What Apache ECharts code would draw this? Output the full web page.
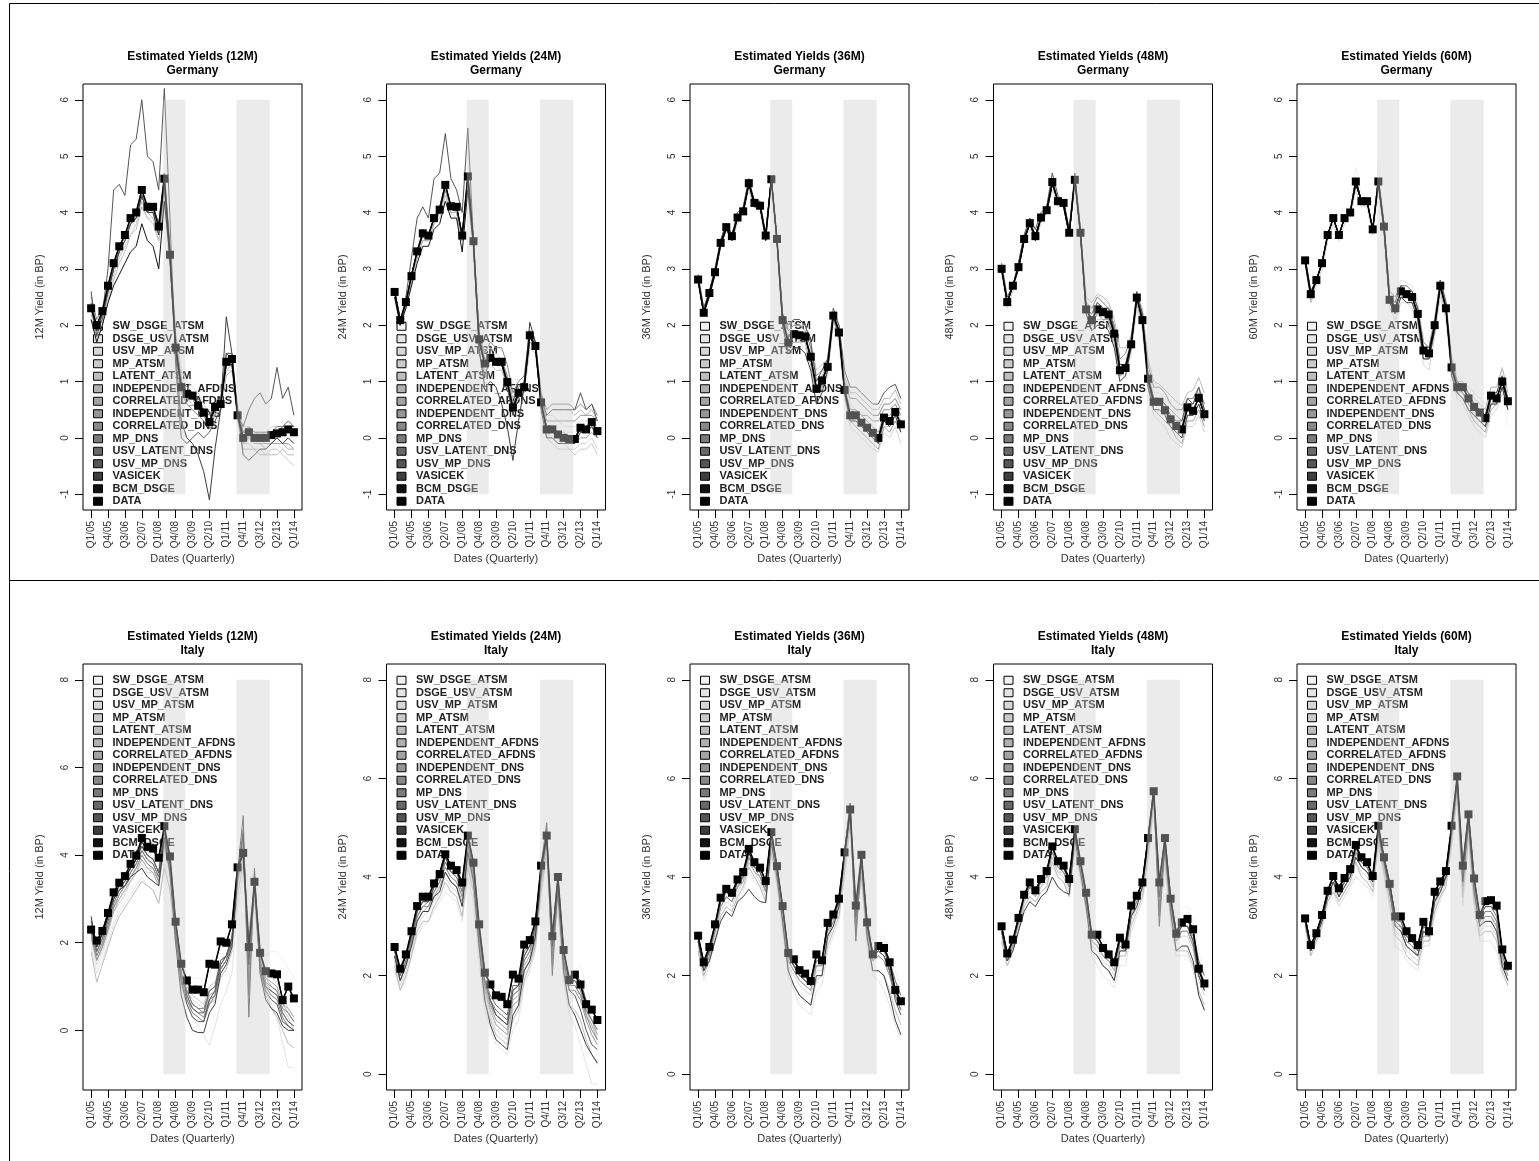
<!DOCTYPE html>
<html>
<head>
<meta charset="utf-8">
<script src="https://cdn.jsdelivr.net/npm/echarts@6/dist/echarts.min.js"></script>
<style>
  html, body { margin: 0; padding: 0; background: #fff; }
  #chart { width: 1539px; height: 1161px; }
</style>
</head>
<body>
<div id="chart"></div>
<script>
// Quarterly observation dates, Q1/05 .. Q1/14
const QUARTERS = ['Q1/05','Q2/05','Q3/05','Q4/05','Q1/06','Q2/06','Q3/06','Q4/06','Q1/07','Q2/07','Q3/07','Q4/07',
  'Q1/08','Q2/08','Q3/08','Q4/08','Q1/09','Q2/09','Q3/09','Q4/09','Q1/10','Q2/10','Q3/10','Q4/10',
  'Q1/11','Q2/11','Q3/11','Q4/11','Q1/12','Q2/12','Q3/12','Q4/12','Q1/13','Q2/13','Q3/13','Q4/13','Q1/14'];
const X_TICKS = [0,3,6,9,12,15,18,21,24,27,30,33,36];

const MODELS = ['SW_DSGE_ATSM','DSGE_USV_ATSM','USV_MP_ATSM','MP_ATSM','LATENT_ATSM','INDEPENDENT_AFDNS',
  'CORRELATED_AFDNS','INDEPENDENT_DNS','CORRELATED_DNS','MP_DNS','USV_LATENT_DNS','USV_MP_DNS','VASICEK','BCM_DSGE'];

// Recession periods (in quarter index units)
const RECESSIONS = [[12.8, 16.7], [25.8, 31.7]];

const DE_TICKS = [-1,0,1,2,3,4,5,6];
const IT_TICKS = [0,2,4,6,8];

// ---------- Germany 12M ----------
const DE12_DATA = [2.3,2.0,2.25,2.7,3.1,3.4,3.6,3.9,4.0,4.4,4.1,4.1,3.75,4.6,3.25,1.6,0.9,0.78,0.75,0.57,0.45,0.28,0.55,0.6,1.35,1.4,0.4,0.0,0.1,0.0,0.0,0.0,0.05,0.08,0.1,0.15,0.1];
const DE12_MODELS = [
  [2.2,1.9,2.1,2.5,2.9,3.2,3.4,3.7,3.8,4.2,4.0,3.9,3.6,4.3,3.1,1.7,1.0,0.8,0.7,0.5,0.4,0.3,0.5,0.6,1.3,1.3,0.4,0.0,0.0,-0.1,-0.1,-0.1,-0.1,0.0,0.0,0.0,-0.1],
  [2.1,1.8,2.0,2.5,2.9,3.2,3.5,3.7,3.9,4.3,4.0,4.0,3.7,4.4,3.2,1.8,1.1,0.9,0.8,0.6,0.5,0.3,0.5,0.6,1.2,1.3,0.5,0.1,0.1,0.0,-0.1,-0.1,-0.1,-0.1,-0.2,-0.1,-0.2],
  [2.2,1.8,2.1,2.6,3.0,3.3,3.5,3.8,3.9,4.2,3.9,3.9,3.6,4.3,3.3,1.9,1.2,1.0,0.9,0.8,0.6,0.4,0.6,0.7,1.2,1.2,0.6,0.2,0.2,0.1,0.1,0.1,0.2,0.2,0.2,0.3,0.2],
  [2.3,1.9,2.1,2.5,2.9,3.2,3.4,3.6,3.8,4.2,4.0,3.9,3.5,4.2,3.2,1.7,1.0,0.8,0.7,0.6,0.4,0.2,0.4,0.5,1.2,1.3,0.4,-0.1,-0.1,-0.2,-0.2,-0.3,-0.2,-0.2,-0.3,-0.4,-0.5],
  [2.1,1.8,2.0,2.4,2.8,3.1,3.3,3.6,3.7,4.1,3.9,3.8,3.5,4.3,3.0,1.5,0.9,0.7,0.6,0.5,0.4,0.2,0.5,0.5,1.1,1.2,0.3,-0.2,-0.2,-0.2,-0.3,-0.3,-0.3,-0.3,-0.2,-0.3,-0.3],
  [2.2,1.9,2.1,2.6,3.0,3.3,3.5,3.8,3.9,4.3,4.0,4.0,3.7,4.5,3.3,1.7,0.9,0.6,0.5,0.4,0.3,0.2,0.5,0.6,1.3,1.4,0.4,-0.1,0.0,-0.1,-0.1,-0.2,-0.1,-0.1,-0.1,-0.2,-0.2],
  [2.3,2.0,2.2,2.6,3.0,3.3,3.5,3.8,3.9,4.3,4.0,4.0,3.6,4.5,3.2,1.6,0.8,0.6,0.5,0.4,0.3,0.2,0.4,0.6,1.3,1.3,0.4,0.0,0.0,-0.1,-0.1,-0.1,-0.1,0.0,-0.1,-0.1,-0.2],
  [2.4,2.0,2.2,2.7,3.1,3.4,3.6,3.9,4.0,4.4,4.1,4.0,3.7,4.5,3.2,1.5,0.8,0.7,0.7,0.5,0.4,0.2,0.5,0.6,1.4,1.4,0.4,0.0,0.1,0.0,0.0,0.0,0.0,0.1,0.1,0.1,0.1],
  [2.5,2.1,2.3,2.7,3.1,3.4,3.6,3.8,4.0,4.3,4.1,4.1,3.7,4.6,3.3,1.6,0.9,0.8,0.8,0.6,0.4,0.3,0.6,0.6,1.4,1.4,0.4,0.0,0.1,0.0,0.0,0.0,0.1,0.1,0.1,0.2,0.1],
  [2.4,2.0,2.2,2.6,3.0,3.3,3.6,3.8,3.9,4.3,4.0,4.1,3.8,4.6,3.3,1.7,1.0,0.9,0.8,0.7,0.5,0.4,0.6,0.7,1.4,1.3,0.5,0.1,0.2,0.1,0.1,0.1,0.1,0.2,0.2,0.3,0.2],
  [2.3,1.9,2.1,2.6,3.0,3.4,3.6,3.9,4.0,4.4,4.1,4.1,3.8,4.7,3.4,1.8,1.0,0.8,0.8,0.6,0.5,0.3,0.6,0.7,1.5,1.4,0.4,0.1,0.1,0.0,0.0,0.0,0.1,0.1,0.2,0.2,0.2],
  [2.6,1.8,2.2,3.0,4.4,4.5,4.3,5.2,5.3,6.0,5.0,4.9,4.4,6.2,3.9,1.3,0.0,-0.1,0.0,0.1,0.0,0.1,0.3,0.5,1.5,1.5,0.4,0.2,0.5,0.7,0.8,0.6,0.7,1.25,0.7,0.9,0.4],
  [2.3,1.9,2.2,2.6,3.0,3.3,3.5,3.8,3.9,4.3,4.0,4.0,3.6,4.5,3.2,1.5,0.3,0.0,-0.1,-0.3,-0.6,-1.1,-0.2,0.5,2.15,1.5,0.5,-0.3,-0.4,-0.3,-0.2,-0.2,-0.1,0.0,-0.1,0.0,-0.1],
  [2.1,1.7,2.0,2.4,2.7,2.9,3.1,3.3,3.4,3.8,3.5,3.4,3.0,4.2,3.2,1.6,0.9,0.8,0.8,0.6,0.5,0.3,0.5,0.6,1.3,1.3,0.4,0.0,0.1,0.0,0.0,0.0,0.05,0.1,0.1,0.15,0.1]
];

// ---------- Germany 24M ----------
const DE24_DATA = [2.59,2.09,2.41,2.87,3.31,3.63,3.59,3.9,4.05,4.49,4.11,4.1,3.59,4.64,3.49,1.75,1.32,1.42,1.35,1.35,0.99,0.54,0.8,0.9,1.82,1.63,0.63,0.15,0.15,0.06,0.0,-0.02,-0.02,0.18,0.15,0.28,0.12];
const DE24_MODELS = [
  [2.5,2.0,2.3,2.8,3.2,3.5,3.5,3.8,3.9,4.3,4.0,4.0,3.5,4.5,3.4,1.8,1.4,1.5,1.4,1.3,1.0,0.6,0.8,0.9,1.7,1.6,0.7,0.3,0.3,0.2,0.1,0.1,0.1,0.2,0.2,0.2,0.1],
  [2.4,2.0,2.3,2.7,3.2,3.5,3.5,3.8,4.0,4.4,4.0,4.0,3.5,4.5,3.4,1.9,1.5,1.6,1.5,1.4,1.1,0.7,0.9,1.0,1.7,1.6,0.8,0.4,0.4,0.3,0.2,0.2,0.2,0.3,0.3,0.3,0.2],
  [2.5,2.1,2.3,2.8,3.2,3.6,3.5,3.8,4.0,4.3,4.0,4.0,3.5,4.4,3.4,1.7,1.3,1.4,1.3,1.2,0.9,0.5,0.7,0.8,1.6,1.5,0.6,0.1,0.0,-0.1,-0.1,-0.2,-0.2,-0.1,-0.1,0.0,-0.2],
  [2.5,2.0,2.3,2.8,3.2,3.5,3.5,3.8,3.9,4.3,4.0,3.9,3.5,4.4,3.3,1.7,1.2,1.3,1.2,1.2,0.9,0.5,0.7,0.8,1.6,1.5,0.6,0.0,-0.1,-0.2,-0.2,-0.2,-0.3,-0.2,-0.2,-0.1,-0.3],
  [2.6,2.1,2.4,2.8,3.3,3.6,3.6,3.9,4.0,4.4,4.1,4.0,3.6,4.5,3.4,1.8,1.4,1.5,1.4,1.4,1.1,0.7,0.9,1.0,1.8,1.7,0.8,0.4,0.5,0.5,0.5,0.5,0.4,0.5,0.4,0.5,0.3],
  [2.5,2.1,2.3,2.8,3.2,3.5,3.5,3.8,4.0,4.4,4.0,4.0,3.5,4.6,3.4,1.7,1.3,1.4,1.3,1.3,1.0,0.6,0.8,0.9,1.7,1.6,0.6,0.2,0.2,0.1,0.1,0.0,0.0,0.1,0.1,0.2,0.1],
  [2.6,2.1,2.4,2.9,3.3,3.6,3.6,3.9,4.0,4.4,4.1,4.1,3.6,4.6,3.5,1.8,1.3,1.4,1.3,1.3,1.0,0.6,0.8,0.9,1.8,1.6,0.6,0.2,0.1,0.0,0.0,-0.1,-0.1,0.0,0.0,0.1,0.0],
  [2.6,2.1,2.4,2.9,3.3,3.6,3.6,3.9,4.1,4.5,4.1,4.1,3.6,4.6,3.5,1.8,1.4,1.5,1.4,1.4,1.1,0.6,0.9,1.0,1.8,1.7,0.7,0.3,0.3,0.3,0.3,0.3,0.3,0.4,0.4,0.4,0.3],
  [2.6,2.1,2.4,2.9,3.3,3.6,3.6,3.9,4.1,4.5,4.1,4.1,3.6,4.6,3.5,1.8,1.5,1.7,1.6,1.6,1.3,0.8,1.0,1.1,1.9,1.7,0.8,0.5,0.6,0.6,0.6,0.6,0.5,0.6,0.5,0.6,0.4],
  [2.6,2.1,2.4,2.9,3.3,3.6,3.6,3.9,4.0,4.5,4.1,4.1,3.6,4.6,3.5,1.7,1.3,1.4,1.4,1.3,1.0,0.5,0.8,0.9,1.8,1.6,0.6,0.2,0.2,0.1,0.0,0.0,0.0,0.2,0.2,0.3,0.1],
  [2.6,2.1,2.4,2.9,3.3,3.7,3.6,3.9,4.1,4.5,4.1,4.1,3.6,4.7,3.5,1.8,1.3,1.4,1.3,1.3,1.0,0.5,0.8,0.9,1.8,1.6,0.6,0.2,0.2,0.1,0.0,0.0,0.0,0.2,0.2,0.3,0.1],
  [2.6,2.0,2.5,3.2,3.9,4.1,3.9,4.6,4.7,5.4,4.6,4.4,4.0,5.5,3.5,1.5,1.1,1.4,1.4,1.3,0.9,0.4,0.8,1.0,1.9,1.7,0.7,0.4,0.5,0.5,0.5,0.5,0.5,0.8,0.5,0.6,0.3],
  [2.6,2.0,2.4,2.9,3.3,3.6,3.6,3.9,4.0,4.5,4.1,4.1,3.6,4.6,3.4,1.6,0.9,1.0,0.9,0.6,0.2,-0.4,0.3,0.9,2.05,1.7,0.5,0.0,0.0,-0.1,-0.1,-0.1,-0.1,0.1,0.1,0.2,0.0],
  [2.5,2.0,2.3,2.7,3.1,3.4,3.4,3.7,3.8,4.2,3.9,3.9,3.3,4.4,3.4,1.7,1.3,1.4,1.3,1.3,1.0,0.5,0.8,0.9,1.8,1.6,0.6,0.15,0.15,0.06,0.0,-0.02,-0.02,0.18,0.15,0.28,0.12]
];

// ---------- Germany 36M ----------
const DE36_DATA = [2.81,2.22,2.57,2.94,3.46,3.74,3.58,3.91,4.02,4.52,4.17,4.12,3.59,4.59,3.53,2.09,1.69,1.84,1.82,1.8,1.44,0.87,1.02,1.26,2.17,1.87,0.85,0.4,0.4,0.27,0.18,0.09,0.0,0.36,0.3,0.46,0.24];
const DE36_MODELS = [
  [2.7,2.2,2.5,2.9,3.4,3.7,3.5,3.9,4.0,4.4,4.1,4.1,3.6,4.5,3.5,2.1,1.7,1.8,1.8,1.8,1.4,0.9,1.0,1.2,2.1,1.8,0.9,0.4,0.4,0.3,0.2,0.1,0.0,0.3,0.3,0.4,0.2],
  [2.8,2.3,2.6,3.0,3.5,3.7,3.6,3.9,4.0,4.4,4.1,4.1,3.6,4.5,3.5,2.2,1.9,2.0,2.0,2.0,1.6,1.0,1.1,1.3,2.1,1.9,1.0,0.6,0.5,0.4,0.3,0.2,0.1,0.4,0.4,0.5,0.3],
  [2.7,2.2,2.5,2.9,3.4,3.7,3.5,3.8,4.0,4.4,4.1,4.0,3.5,4.5,3.4,2.0,1.6,1.7,1.7,1.6,1.3,0.8,0.9,1.1,2.0,1.7,0.7,0.2,0.1,0.0,-0.1,-0.2,-0.25,0.1,0.0,0.2,-0.1],
  [2.8,2.2,2.6,2.9,3.4,3.7,3.6,3.9,4.0,4.5,4.1,4.1,3.6,4.6,3.5,2.1,1.7,1.8,1.8,1.8,1.4,0.9,1.0,1.3,2.1,1.8,0.8,0.3,0.3,0.2,0.1,0.0,-0.1,0.2,0.2,0.3,0.1],
  [2.8,2.3,2.6,3.0,3.5,3.8,3.6,3.9,4.1,4.5,4.2,4.1,3.6,4.6,3.5,2.2,2.0,2.1,2.1,2.0,1.7,1.2,1.3,1.4,2.2,2.0,1.1,0.8,0.8,0.7,0.6,0.5,0.5,0.7,0.7,0.85,0.6],
  [2.8,2.2,2.6,2.9,3.5,3.7,3.6,3.9,4.0,4.5,4.2,4.1,3.6,4.6,3.5,2.1,1.8,1.9,1.9,1.8,1.5,0.9,1.1,1.3,2.1,1.9,0.9,0.5,0.5,0.4,0.3,0.2,0.1,0.4,0.4,0.5,0.3],
  [2.8,2.2,2.6,2.9,3.4,3.7,3.6,3.9,4.0,4.5,4.2,4.1,3.6,4.6,3.5,2.0,1.6,1.7,1.7,1.7,1.3,0.8,0.9,1.2,2.1,1.8,0.8,0.3,0.2,0.1,0.0,-0.1,-0.2,0.2,0.1,0.3,0.1],
  [2.8,2.2,2.6,2.9,3.5,3.7,3.6,3.9,4.0,4.5,4.2,4.1,3.6,4.6,3.5,2.1,1.7,1.8,1.8,1.8,1.4,0.9,1.0,1.3,2.2,1.9,0.9,0.5,0.5,0.4,0.4,0.3,0.3,0.5,0.5,0.6,0.4],
  [2.8,2.2,2.6,3.0,3.5,3.8,3.6,3.9,4.1,4.5,4.2,4.1,3.6,4.6,3.5,2.2,1.9,2.0,2.0,1.9,1.6,1.1,1.2,1.4,2.2,2.0,1.0,0.7,0.7,0.6,0.5,0.4,0.4,0.6,0.6,0.7,0.5],
  [2.8,2.2,2.6,2.9,3.5,3.7,3.6,3.9,4.0,4.5,4.2,4.1,3.6,4.6,3.5,2.1,1.7,1.8,1.8,1.8,1.4,0.9,1.0,1.3,2.2,1.9,0.8,0.4,0.4,0.3,0.2,0.1,0.0,0.4,0.3,0.5,0.2],
  [2.8,2.3,2.6,2.9,3.5,3.8,3.6,3.9,4.0,4.5,4.2,4.1,3.6,4.6,3.5,2.1,1.7,1.8,1.8,1.8,1.4,0.9,1.0,1.3,2.2,1.9,0.9,0.4,0.4,0.3,0.2,0.1,0.0,0.4,0.3,0.5,0.2],
  [2.9,2.3,2.6,3.0,3.5,3.8,3.6,4.0,4.1,4.6,4.2,4.2,3.6,4.6,3.5,2.2,2.0,2.1,2.1,2.0,1.7,1.0,1.2,1.4,2.3,2.0,1.2,0.9,0.9,0.8,0.7,0.6,0.6,0.8,0.9,0.95,0.7],
  [2.8,2.2,2.6,2.9,3.5,3.7,3.6,3.9,4.0,4.5,4.2,4.1,3.6,4.6,3.5,2.0,1.5,1.6,1.6,1.5,1.2,0.6,0.8,1.2,2.2,1.9,0.8,0.3,0.3,0.2,0.1,0.0,-0.1,0.3,0.2,0.4,0.1],
  [2.8,2.2,2.5,2.9,3.4,3.7,3.5,3.9,4.0,4.5,4.1,4.1,3.5,4.6,3.5,2.1,1.7,1.8,1.8,1.8,1.4,0.9,1.0,1.3,2.2,1.9,0.85,0.4,0.4,0.27,0.18,0.09,0.0,0.36,0.3,0.46,0.24]
];

// ---------- Germany 48M ----------
const DE48_DATA = [3.0,2.41,2.7,3.03,3.53,3.81,3.58,3.91,4.04,4.54,4.2,4.17,3.64,4.58,3.64,2.28,2.09,2.28,2.23,2.19,1.85,1.2,1.24,1.66,2.49,2.09,1.05,0.64,0.64,0.49,0.33,0.21,0.15,0.54,0.48,0.71,0.42];
const DE48_MODELS = [
  [2.9,2.3,2.6,3.0,3.5,3.8,3.5,3.9,4.0,4.5,4.2,4.1,3.6,4.5,3.6,2.3,2.1,2.3,2.2,2.2,1.8,1.2,1.2,1.6,2.4,2.0,1.0,0.6,0.6,0.5,0.3,0.2,0.1,0.5,0.5,0.7,0.4],
  [2.9,2.4,2.7,3.0,3.5,3.8,3.6,3.9,4.0,4.5,4.2,4.2,3.6,4.5,3.6,2.4,2.3,2.5,2.4,2.4,2.0,1.4,1.4,1.7,2.5,2.2,1.2,0.8,0.8,0.7,0.6,0.5,0.4,0.7,0.7,0.9,0.6],
  [2.9,2.3,2.6,3.0,3.5,3.7,3.5,3.8,4.0,4.4,4.1,4.1,3.6,4.5,3.5,2.2,2.0,2.1,2.1,2.0,1.7,1.1,1.1,1.5,2.3,1.9,0.9,0.4,0.3,0.2,0.0,-0.1,-0.17,0.2,0.2,0.4,0.1],
  [3.0,2.4,2.7,3.0,3.5,3.8,3.6,3.9,4.0,4.5,4.2,4.1,3.6,4.6,3.6,2.3,2.1,2.2,2.2,2.1,1.8,1.2,1.2,1.6,2.4,2.0,1.0,0.5,0.5,0.4,0.2,0.1,0.0,0.4,0.4,0.6,0.3],
  [3.0,2.4,2.7,3.1,3.6,3.9,3.6,3.9,4.1,4.5,4.2,4.2,3.7,4.6,3.7,2.5,2.4,2.55,2.5,2.4,2.1,1.6,1.6,1.8,2.5,2.3,1.4,1.0,0.95,0.85,0.75,0.65,0.57,0.8,0.85,1.07,0.8],
  [3.0,2.4,2.7,3.0,3.5,3.8,3.6,3.9,4.0,4.5,4.2,4.2,3.6,4.6,3.6,2.3,2.2,2.4,2.3,2.3,1.9,1.3,1.3,1.7,2.5,2.1,1.1,0.7,0.7,0.6,0.4,0.3,0.2,0.6,0.6,0.8,0.5],
  [3.0,2.4,2.7,3.0,3.5,3.8,3.6,3.9,4.0,4.5,4.2,4.1,3.6,4.6,3.6,2.2,2.0,2.2,2.1,2.1,1.7,1.1,1.2,1.6,2.4,2.0,0.9,0.5,0.4,0.3,0.2,0.0,-0.1,0.3,0.3,0.5,0.2],
  [3.0,2.4,2.7,3.0,3.5,3.8,3.6,3.9,4.0,4.5,4.2,4.2,3.6,4.6,3.6,2.3,2.1,2.3,2.3,2.2,1.9,1.2,1.3,1.7,2.5,2.1,1.1,0.7,0.7,0.6,0.5,0.4,0.3,0.6,0.6,0.8,0.5],
  [3.0,2.4,2.7,3.1,3.6,3.8,3.6,3.9,4.1,4.5,4.2,4.2,3.7,4.6,3.7,2.4,2.3,2.5,2.4,2.3,2.0,1.4,1.5,1.8,2.5,2.2,1.3,0.9,0.9,0.8,0.6,0.5,0.5,0.7,0.7,0.9,0.6],
  [3.0,2.4,2.7,3.0,3.5,3.8,3.6,3.9,4.0,4.5,4.2,4.2,3.6,4.6,3.6,2.3,2.1,2.3,2.2,2.2,1.8,1.2,1.2,1.7,2.5,2.1,1.0,0.6,0.6,0.5,0.3,0.2,0.1,0.5,0.5,0.7,0.4],
  [3.0,2.4,2.7,3.0,3.5,3.8,3.6,3.9,4.1,4.6,4.2,4.2,3.6,4.6,3.6,2.3,2.1,2.3,2.2,2.2,1.8,1.2,1.3,1.7,2.5,2.1,1.0,0.6,0.6,0.5,0.3,0.2,0.2,0.5,0.5,0.7,0.4],
  [3.1,2.5,2.7,3.1,3.6,3.9,3.7,4.0,4.1,4.7,4.3,4.2,3.7,4.7,3.7,2.3,2.2,2.4,2.3,2.3,1.9,1.3,1.3,1.7,2.6,2.2,1.1,0.7,0.7,0.6,0.4,0.3,0.3,0.7,0.6,0.9,0.5],
  [3.0,2.4,2.7,3.0,3.5,3.8,3.6,3.9,4.0,4.5,4.2,4.1,3.6,4.6,3.6,2.2,1.9,2.0,2.0,1.9,1.6,1.0,1.1,1.6,2.5,2.1,0.9,0.5,0.5,0.4,0.2,0.1,0.0,0.4,0.4,0.6,0.3],
  [3.0,2.4,2.7,3.0,3.5,3.8,3.5,3.9,4.0,4.5,4.2,4.1,3.6,4.6,3.6,2.3,2.1,2.3,2.2,2.2,1.85,1.2,1.24,1.66,2.49,2.09,1.05,0.64,0.64,0.49,0.33,0.21,0.15,0.54,0.48,0.71,0.42]
];

// ---------- Germany 60M ----------
const DE60_DATA = [3.15,2.55,2.8,3.1,3.6,3.9,3.6,3.9,4.0,4.55,4.2,4.2,3.7,4.55,3.75,2.45,2.3,2.6,2.55,2.5,2.2,1.55,1.5,2.0,2.7,2.3,1.25,0.9,0.9,0.7,0.55,0.45,0.35,0.75,0.7,1.0,0.65];
const DE60_MODELS = [
  [3.1,2.4,2.7,3.0,3.5,3.8,3.5,3.8,4.0,4.8,4.3,4.2,3.6,4.9,3.7,2.4,2.2,2.5,2.5,2.4,2.1,1.4,1.3,1.9,2.6,2.2,1.2,0.8,0.7,0.5,0.3,0.2,0.1,0.5,0.5,0.9,0.2],
  [3.1,2.5,2.8,3.1,3.6,3.9,3.6,3.9,4.0,4.5,4.2,4.2,3.7,4.5,3.8,2.6,2.5,2.8,2.75,2.7,2.4,1.8,1.7,2.1,2.8,2.5,1.5,1.1,1.0,0.9,0.8,0.7,0.6,0.9,0.9,1.2,0.9],
  [3.1,2.4,2.7,3.0,3.5,3.8,3.5,3.8,3.9,4.4,4.1,4.1,3.6,4.4,3.6,2.3,2.1,2.4,2.4,2.3,2.0,1.3,1.2,1.8,2.5,2.1,1.1,0.7,0.6,0.4,0.2,0.1,0.0,0.4,0.5,0.8,0.5],
  [3.2,2.5,2.8,3.1,3.6,3.9,3.6,3.9,4.0,4.5,4.2,4.2,3.7,4.5,3.7,2.4,2.3,2.6,2.5,2.5,2.2,1.5,1.5,2.0,2.7,2.3,1.2,0.8,0.8,0.6,0.4,0.3,0.2,0.6,0.7,1.0,0.6],
  [3.2,2.4,2.8,3.1,3.6,3.9,3.6,3.9,4.0,4.6,4.2,4.2,3.7,4.6,3.8,2.5,2.4,2.7,2.7,2.6,2.3,1.7,1.6,2.1,2.8,2.4,1.4,1.0,1.0,0.8,0.7,0.6,0.5,0.9,0.9,1.25,0.8],
  [3.1,2.5,2.8,3.1,3.6,3.9,3.6,3.9,4.0,4.5,4.2,4.2,3.7,4.6,3.7,2.4,2.2,2.5,2.5,2.4,2.1,1.4,1.4,1.9,2.6,2.2,1.2,0.8,0.7,0.5,0.4,0.3,0.2,0.6,0.6,0.9,0.5],
  [3.2,2.5,2.8,3.1,3.6,3.9,3.6,3.9,4.0,4.5,4.2,4.2,3.7,4.6,3.7,2.4,2.3,2.6,2.5,2.5,2.2,1.5,1.4,1.9,2.7,2.3,1.2,0.8,0.7,0.5,0.3,0.2,0.1,0.5,0.6,0.9,0.5],
  [3.2,2.5,2.8,3.1,3.6,3.9,3.6,3.9,4.0,4.5,4.2,4.2,3.7,4.6,3.8,2.5,2.3,2.6,2.6,2.5,2.2,1.6,1.5,2.0,2.7,2.3,1.3,0.9,0.9,0.7,0.5,0.4,0.3,0.7,0.7,1.0,0.6],
  [3.2,2.6,2.8,3.1,3.6,3.9,3.6,3.9,4.0,4.6,4.2,4.2,3.7,4.6,3.8,2.6,2.5,2.7,2.7,2.6,2.3,1.7,1.6,2.1,2.8,2.4,1.4,1.0,0.9,0.8,0.6,0.5,0.4,0.8,0.8,1.1,0.7],
  [3.2,2.5,2.8,3.1,3.6,3.9,3.6,3.9,4.0,4.5,4.2,4.2,3.7,4.5,3.7,2.4,2.3,2.6,2.5,2.5,2.2,1.5,1.5,2.0,2.7,2.3,1.2,0.9,0.8,0.6,0.5,0.4,0.3,0.7,0.7,1.0,0.6],
  [3.2,2.6,2.8,3.1,3.6,3.9,3.6,3.9,4.0,4.6,4.2,4.2,3.7,4.6,3.7,2.4,2.3,2.6,2.6,2.5,2.2,1.5,1.5,2.0,2.7,2.3,1.3,0.9,0.9,0.7,0.5,0.4,0.3,0.7,0.7,1.0,0.6],
  [3.2,2.6,2.8,3.1,3.6,3.9,3.6,3.9,4.0,4.6,4.2,4.2,3.7,4.6,3.8,2.5,2.4,2.7,2.6,2.6,2.3,1.6,1.6,2.0,2.8,2.4,1.3,1.0,0.9,0.8,0.6,0.5,0.4,0.8,0.8,1.1,0.7],
  [3.1,2.5,2.8,3.1,3.6,3.9,3.6,3.9,4.0,4.5,4.2,4.2,3.7,4.5,3.7,2.4,2.2,2.5,2.4,2.4,2.1,1.4,1.4,1.9,2.7,2.3,1.1,0.8,0.7,0.5,0.4,0.3,0.2,0.6,0.6,0.9,0.5],
  [3.15,2.55,2.8,3.1,3.6,3.9,3.6,3.9,4.0,4.5,4.2,4.2,3.7,4.5,3.75,2.45,2.3,2.6,2.55,2.5,2.2,1.55,1.5,2.0,2.7,2.3,1.25,0.9,0.9,0.7,0.55,0.45,0.35,0.75,0.7,1.0,0.65]
];

// ---------- Italy 12M ----------
const IT12_DATA = [2.3,2.05,2.27,2.68,3.15,3.37,3.52,3.8,3.99,4.39,4.19,4.15,3.94,4.66,3.97,2.48,1.52,1.14,0.93,0.93,0.87,1.52,1.5,2.03,2.0,2.42,3.72,4.05,1.9,3.39,1.77,1.35,1.3,1.28,0.69,1.0,0.73];
const IT12_MODELS = [
  [2.0,1.4,1.7,2.1,2.5,2.8,3.0,3.2,3.4,3.6,3.5,3.4,3.1,3.9,3.4,2.3,1.5,1.3,1.2,1.2,1.1,1.5,1.5,1.9,1.9,2.2,3.4,3.9,2.3,3.2,2.0,1.7,1.8,1.8,1.6,1.4,1.2],
  [1.9,1.3,1.6,2.0,2.4,2.7,2.9,3.1,3.3,3.5,3.3,3.2,2.9,3.8,3.2,2.0,1.0,0.6,0.3,0.1,-0.1,-0.35,0.1,0.6,0.9,1.3,2.8,3.6,1.9,3.0,1.5,0.9,0.6,0.3,-0.3,-0.85,-0.85],
  [2.1,1.5,1.8,2.2,2.7,2.9,3.1,3.4,3.6,3.8,3.6,3.6,3.3,4.1,3.5,2.2,1.3,0.9,0.7,0.6,0.5,0.8,0.9,1.4,1.6,2.0,3.3,3.9,2.0,3.1,1.7,1.3,1.2,1.1,0.8,0.5,0.3],
  [2.2,1.6,1.9,2.3,2.8,3.0,3.2,3.5,3.7,3.9,3.7,3.7,3.4,4.2,3.6,2.3,1.4,1.0,0.8,0.7,0.6,1.0,1.1,1.6,1.7,2.1,3.4,4.0,2.1,3.2,1.6,1.1,0.9,0.8,0.5,0.3,0.0],
  [1.8,1.1,1.5,1.9,2.3,2.6,2.8,3.0,3.2,3.4,3.3,3.2,2.9,3.7,3.2,2.0,1.1,0.7,0.5,0.4,0.3,0.6,0.7,1.2,1.4,1.8,3.1,3.8,1.8,3.0,1.4,0.8,0.5,0.3,0.0,-0.3,-0.4],
  [2.1,1.6,1.9,2.3,2.7,3.0,3.2,3.4,3.6,3.9,3.7,3.6,3.3,4.2,3.6,2.3,1.3,0.9,0.6,0.5,0.4,0.7,0.8,1.4,1.6,2.0,3.4,4.1,2.2,3.3,1.7,1.2,1.0,0.9,0.6,0.4,0.2],
  [2.2,1.7,2.0,2.4,2.8,3.1,3.3,3.5,3.7,4.0,3.8,3.7,3.4,4.3,3.7,2.3,1.3,0.9,0.6,0.5,0.4,0.8,0.9,1.5,1.7,2.1,3.5,4.2,2.0,3.3,1.7,1.2,1.1,1.0,0.6,0.5,0.3],
  [2.2,1.6,1.9,2.3,2.8,3.1,3.3,3.5,3.7,4.0,3.8,3.7,3.4,4.3,3.6,2.2,1.2,0.8,0.5,0.4,0.3,0.7,0.8,1.4,1.6,2.0,3.4,4.2,1.7,3.2,1.5,1.0,0.9,0.8,0.4,0.2,0.1],
  [2.3,1.7,2.0,2.4,2.9,3.2,3.3,3.6,3.8,4.1,3.9,3.8,3.5,4.4,3.7,2.3,1.3,0.9,0.6,0.5,0.5,0.9,1.0,1.6,1.7,2.1,3.5,4.3,1.6,3.3,1.6,1.1,1.0,0.9,0.5,0.4,0.2],
  [2.3,1.8,2.1,2.5,2.9,3.2,3.4,3.6,3.8,4.1,3.9,3.8,3.5,4.4,3.7,2.2,1.2,0.7,0.4,0.3,0.2,0.6,0.8,1.4,1.6,2.0,3.5,4.5,1.2,3.5,1.5,1.0,0.8,0.7,0.3,0.1,0.0],
  [2.4,1.8,2.1,2.5,3.0,3.3,3.4,3.7,3.9,4.2,4.0,3.9,3.6,4.5,3.8,2.3,1.3,0.8,0.5,0.4,0.4,0.9,1.0,1.6,1.7,2.1,3.6,4.6,0.8,3.6,1.5,1.0,0.9,0.8,0.4,0.2,0.1],
  [2.5,1.9,2.2,2.6,3.0,3.3,3.5,3.7,3.9,4.2,4.0,3.9,3.6,4.6,3.8,2.2,1.1,0.6,0.3,0.2,0.2,0.7,0.9,1.5,1.7,2.1,3.6,4.9,0.3,3.7,1.4,0.9,0.7,0.6,0.2,0.1,0.0],
  [2.6,1.9,2.2,2.6,3.0,3.2,3.3,3.5,3.6,3.7,3.5,3.4,3.3,4.4,3.6,2.0,0.8,0.3,0.0,-0.05,-0.05,0.4,0.6,1.3,1.5,1.9,3.5,4.5,1.5,3.4,1.3,0.7,0.5,0.4,0.1,0.0,0.0],
  [2.3,2.0,2.2,2.6,3.1,3.3,3.5,3.7,3.9,4.3,4.1,4.1,3.9,4.6,3.9,2.5,1.5,1.1,0.9,0.9,0.9,1.5,1.5,2.0,2.0,2.4,3.7,4.0,1.9,3.3,1.8,1.3,1.3,1.3,0.7,1.0,0.7]
];

// ---------- Italy 24M ----------
const IT24_DATA = [2.58,2.14,2.43,2.9,3.41,3.6,3.6,3.87,4.06,4.46,4.23,4.14,3.89,4.84,4.29,3.04,2.06,1.82,1.6,1.57,1.42,2.02,1.94,2.63,2.72,3.1,4.23,4.84,2.8,4.0,2.52,1.91,2.02,1.82,1.42,1.31,1.1];
const IT24_MODELS = [
  [2.2,1.7,2.0,2.4,2.9,3.1,3.2,3.4,3.6,3.8,3.7,3.6,3.2,4.1,3.7,2.6,1.7,1.4,1.2,1.0,0.9,1.4,1.5,2.1,2.3,2.7,3.8,4.5,2.9,3.6,2.4,2.0,2.1,2.2,1.8,1.4,1.0],
  [2.1,1.7,1.9,2.4,2.8,3.0,3.1,3.3,3.5,3.7,3.6,3.5,3.1,4.0,3.5,2.3,1.3,0.9,0.6,0.5,0.4,0.9,1.1,1.8,2.1,2.5,3.6,4.4,2.6,3.3,1.9,1.2,1.0,0.6,0.2,-0.2,-0.2],
  [2.3,1.8,2.1,2.5,3.0,3.2,3.3,3.5,3.7,4.0,3.8,3.7,3.4,4.3,3.8,2.6,1.6,1.2,0.9,0.8,0.7,1.3,1.4,2.0,2.2,2.6,3.8,4.5,2.7,3.6,2.2,1.7,1.7,1.6,1.3,1.0,0.8],
  [2.3,1.9,2.2,2.6,3.1,3.3,3.3,3.6,3.8,4.1,3.9,3.8,3.5,4.4,3.9,2.7,1.7,1.3,1.0,0.9,0.8,1.4,1.5,2.1,2.3,2.7,3.9,4.6,2.7,3.7,2.3,1.8,1.9,1.8,1.4,1.1,0.9],
  [2.2,1.7,2.0,2.4,2.9,3.1,3.1,3.4,3.6,3.9,3.7,3.6,3.2,4.2,3.7,2.5,1.5,1.1,0.8,0.7,0.6,1.1,1.3,1.9,2.2,2.6,3.7,4.5,2.6,3.5,2.0,1.4,1.3,1.1,0.7,0.4,0.2],
  [2.4,1.9,2.2,2.6,3.1,3.3,3.4,3.6,3.8,4.1,3.9,3.8,3.5,4.4,3.9,2.7,1.7,1.3,1.0,0.9,0.8,1.4,1.5,2.1,2.3,2.7,3.9,4.6,2.6,3.7,2.3,1.8,1.8,1.6,1.2,1.0,0.7],
  [2.4,2.0,2.3,2.7,3.2,3.4,3.4,3.7,3.9,4.2,4.0,3.9,3.6,4.5,4.0,2.8,1.8,1.4,1.1,1.0,0.9,1.5,1.6,2.2,2.4,2.8,4.0,4.7,2.5,3.8,2.3,1.8,1.9,1.7,1.3,1.1,0.8],
  [2.4,1.9,2.2,2.7,3.2,3.4,3.4,3.7,3.9,4.2,4.0,3.9,3.6,4.5,4.0,2.8,1.8,1.4,1.2,1.1,1.0,1.6,1.7,2.3,2.5,2.9,4.0,4.8,2.4,3.8,2.2,1.7,1.7,1.5,1.1,0.8,0.6],
  [2.5,2.0,2.3,2.7,3.2,3.4,3.5,3.7,3.9,4.3,4.1,4.0,3.7,4.6,4.0,2.8,1.8,1.5,1.2,1.1,1.0,1.6,1.7,2.3,2.5,2.9,4.1,4.8,2.3,3.9,2.3,1.8,1.8,1.6,1.2,0.9,0.7],
  [2.5,2.0,2.3,2.8,3.3,3.5,3.5,3.8,4.0,4.3,4.1,4.0,3.7,4.7,4.1,2.9,1.9,1.5,1.3,1.2,1.1,1.7,1.8,2.4,2.6,3.0,4.1,4.9,2.2,3.9,2.4,1.9,1.9,1.7,1.3,1.1,0.9],
  [2.5,2.1,2.4,2.8,3.3,3.5,3.5,3.8,4.0,4.4,4.1,4.1,3.8,4.7,4.1,2.9,1.9,1.6,1.4,1.3,1.2,1.8,1.8,2.5,2.6,3.0,4.2,5.0,2.4,4.0,2.5,2.0,2.0,1.9,1.5,1.3,1.1],
  [2.6,2.1,2.4,2.8,3.3,3.5,3.5,3.8,4.0,4.4,4.2,4.1,3.8,4.8,4.2,2.9,1.9,1.5,1.2,1.1,1.0,1.7,1.8,2.4,2.6,3.0,4.2,5.1,2.0,3.9,2.3,1.7,1.6,1.3,0.9,0.6,0.5],
  [2.4,1.9,2.2,2.6,3.1,3.3,3.3,3.6,3.7,4.1,3.9,3.8,3.4,4.5,3.9,2.6,1.5,1.0,0.7,0.6,0.5,1.2,1.4,2.1,2.3,2.8,4.0,4.8,2.6,3.7,2.1,1.4,1.2,0.9,0.6,0.4,0.23],
  [2.6,2.1,2.4,2.9,3.4,3.6,3.6,3.9,4.1,4.5,4.2,4.1,3.9,4.8,4.3,3.0,2.1,1.8,1.6,1.6,1.4,2.0,1.9,2.6,2.7,3.1,4.2,4.8,2.8,4.0,2.5,1.9,2.0,1.8,1.4,1.3,1.1]
];

// ---------- Italy 36M ----------
const IT36_DATA = [2.81,2.27,2.58,3.04,3.58,3.76,3.68,3.95,4.1,4.57,4.3,4.19,3.92,4.91,4.22,3.41,2.46,2.33,2.11,2.04,1.89,2.43,2.31,3.07,3.24,3.56,4.5,5.37,3.42,4.45,3.08,2.43,2.6,2.56,2.27,1.71,1.48];
const IT36_MODELS = [
  [2.6,2.0,2.3,2.8,3.3,3.5,3.4,3.7,3.8,4.2,4.0,3.9,3.6,4.6,4.0,3.2,2.4,2.3,2.2,2.1,2.0,2.3,2.3,2.8,3.0,3.3,4.2,5.1,3.5,4.2,3.1,2.7,2.8,2.8,2.5,2.1,1.8],
  [2.5,1.9,2.2,2.7,3.2,3.4,3.3,3.6,3.7,4.1,3.9,3.8,3.5,4.5,3.8,2.9,2.0,1.7,1.4,1.3,1.2,1.7,1.8,2.5,2.8,3.1,4.0,5.0,3.1,3.9,2.6,2.0,1.9,1.7,1.4,1.0,0.7],
  [2.6,2.0,2.3,2.8,3.3,3.5,3.4,3.7,3.9,4.3,4.1,3.9,3.6,4.6,4.0,3.1,2.2,2.0,1.8,1.7,1.6,2.1,2.1,2.7,3.0,3.3,4.2,5.1,3.2,4.1,2.8,2.3,2.4,2.3,2.0,1.6,1.3],
  [2.7,2.1,2.4,2.9,3.4,3.6,3.5,3.8,3.9,4.3,4.1,4.0,3.7,4.7,4.0,3.2,2.3,2.1,1.9,1.8,1.7,2.2,2.2,2.8,3.1,3.4,4.3,5.2,3.3,4.2,2.9,2.4,2.5,2.4,2.1,1.7,1.4],
  [2.5,2.0,2.3,2.7,3.2,3.4,3.3,3.6,3.8,4.2,4.0,3.8,3.5,4.5,3.9,3.0,2.1,1.8,1.6,1.5,1.4,1.9,2.0,2.6,2.9,3.2,4.1,5.1,3.2,4.0,2.7,2.1,2.1,2.0,1.7,1.3,1.0],
  [2.7,2.1,2.4,2.9,3.4,3.6,3.5,3.8,3.9,4.4,4.1,4.0,3.7,4.7,4.1,3.2,2.3,2.1,1.9,1.8,1.7,2.2,2.2,2.8,3.1,3.4,4.3,5.2,3.2,4.2,2.9,2.3,2.4,2.3,2.0,1.6,1.3],
  [2.7,2.2,2.5,2.9,3.4,3.6,3.5,3.8,4.0,4.4,4.2,4.0,3.7,4.7,4.1,3.2,2.3,2.1,1.9,1.8,1.7,2.2,2.2,2.9,3.1,3.4,4.4,5.3,3.1,4.3,2.9,2.3,2.4,2.3,2.0,1.6,1.3],
  [2.7,2.1,2.4,2.9,3.4,3.6,3.5,3.8,4.0,4.4,4.2,4.1,3.7,4.8,4.1,3.3,2.4,2.2,2.0,1.9,1.8,2.3,2.3,2.9,3.2,3.5,4.4,5.3,3.0,4.3,2.9,2.4,2.5,2.4,2.1,1.7,1.4],
  [2.8,2.2,2.5,3.0,3.5,3.7,3.6,3.9,4.0,4.5,4.2,4.1,3.8,4.8,4.1,3.3,2.4,2.2,2.0,1.9,1.8,2.3,2.3,3.0,3.2,3.5,4.5,5.4,3.0,4.4,3.0,2.4,2.5,2.4,2.1,1.6,1.3],
  [2.8,2.2,2.5,3.0,3.5,3.7,3.6,3.9,4.0,4.5,4.2,4.1,3.8,4.8,4.2,3.3,2.4,2.2,2.0,2.0,1.8,2.4,2.3,3.0,3.2,3.5,4.5,5.4,2.8,4.4,3.0,2.4,2.6,2.5,2.2,1.7,1.4],
  [2.8,2.2,2.5,3.0,3.5,3.7,3.6,3.9,4.0,4.5,4.2,4.1,3.8,4.9,4.2,3.4,2.4,2.3,2.1,2.0,1.9,2.4,2.3,3.0,3.2,3.5,4.5,5.5,2.9,4.4,3.0,2.5,2.6,2.6,2.3,1.9,1.6],
  [2.8,2.2,2.5,3.0,3.5,3.7,3.6,3.9,4.1,4.5,4.3,4.2,3.9,4.9,4.2,3.4,2.4,2.2,2.0,1.9,1.8,2.4,2.3,3.0,3.2,3.5,4.5,5.5,2.7,4.4,3.0,2.4,2.5,2.4,2.1,1.5,1.2],
  [2.7,2.1,2.3,2.7,3.1,3.3,3.2,3.5,3.6,3.75,3.6,3.5,3.48,4.7,4.0,3.1,2.1,1.8,1.6,1.5,1.4,2.0,2.0,2.8,3.0,3.4,4.4,5.3,3.2,4.3,2.8,2.1,2.1,2.0,1.6,1.1,0.8],
  [2.8,2.3,2.6,3.0,3.6,3.7,3.7,3.9,4.1,4.5,4.3,4.2,3.9,4.9,4.2,3.4,2.5,2.3,2.1,2.0,1.9,2.4,2.3,3.1,3.2,3.6,4.5,5.3,3.4,4.4,3.1,2.4,2.6,2.6,2.3,1.7,1.5]
];

// ---------- Italy 48M ----------
const IT48_DATA = [3.0,2.45,2.73,3.17,3.64,3.89,3.73,3.96,4.12,4.62,4.32,4.23,3.96,4.97,4.32,3.68,2.83,2.83,2.56,2.43,2.27,2.77,2.63,3.42,3.62,3.89,4.79,5.74,3.89,4.79,3.56,2.85,3.08,3.15,2.94,2.14,1.84];
const IT48_MODELS = [
  [2.8,2.3,2.6,3.0,3.5,3.7,3.6,3.8,3.9,4.3,4.1,4.0,3.7,4.7,4.1,3.5,2.9,2.9,2.7,2.6,2.4,2.7,2.7,3.2,3.4,3.7,4.5,5.5,3.9,4.5,3.6,3.2,3.4,3.4,3.1,2.5,2.1],
  [2.7,2.2,2.5,2.9,3.4,3.6,3.5,3.7,3.8,4.2,4.0,3.9,3.6,4.6,4.0,3.3,2.4,2.2,2.0,1.9,1.75,2.2,2.2,2.9,3.2,3.5,4.3,5.4,3.5,4.2,3.1,2.4,2.4,2.4,2.1,1.6,1.3],
  [2.8,2.3,2.6,3.0,3.5,3.7,3.6,3.8,3.9,4.4,4.1,4.0,3.7,4.7,4.1,3.4,2.6,2.5,2.3,2.2,2.0,2.5,2.5,3.1,3.4,3.7,4.5,5.5,3.6,4.4,3.3,2.7,2.8,2.8,2.5,1.9,1.6],
  [2.9,2.3,2.6,3.0,3.5,3.8,3.6,3.8,4.0,4.4,4.1,4.1,3.8,4.8,4.2,3.5,2.7,2.6,2.4,2.3,2.1,2.6,2.6,3.2,3.5,3.8,4.6,5.6,3.7,4.5,3.4,2.8,2.9,2.9,2.6,2.0,1.7],
  [2.7,2.2,2.5,2.9,3.4,3.6,3.5,3.7,3.8,4.3,4.0,3.9,3.6,4.6,4.0,3.4,2.5,2.4,2.2,2.1,1.9,2.4,2.4,3.0,3.3,3.6,4.4,5.5,3.6,4.3,3.2,2.5,2.5,2.5,2.2,1.7,1.4],
  [2.9,2.3,2.6,3.1,3.5,3.8,3.6,3.9,4.0,4.5,4.2,4.1,3.8,4.8,4.2,3.5,2.7,2.6,2.4,2.3,2.1,2.6,2.5,3.2,3.5,3.8,4.6,5.6,3.6,4.5,3.4,2.7,2.9,2.9,2.6,2.0,1.7],
  [2.9,2.4,2.6,3.1,3.6,3.8,3.7,3.9,4.0,4.5,4.2,4.1,3.8,4.8,4.2,3.5,2.7,2.6,2.4,2.3,2.2,2.6,2.5,3.3,3.5,3.8,4.7,5.6,3.5,4.6,3.4,2.7,2.9,2.9,2.6,2.0,1.7],
  [2.9,2.3,2.6,3.1,3.6,3.8,3.7,3.9,4.0,4.5,4.2,4.1,3.8,4.9,4.2,3.6,2.8,2.7,2.5,2.4,2.2,2.7,2.6,3.3,3.5,3.8,4.7,5.7,3.4,4.6,3.5,2.8,3.0,3.0,2.7,2.1,1.8],
  [3.0,2.4,2.7,3.1,3.6,3.8,3.7,3.9,4.1,4.5,4.3,4.2,3.9,4.9,4.3,3.6,2.8,2.7,2.5,2.4,2.2,2.7,2.6,3.3,3.6,3.9,4.7,5.7,3.4,4.7,3.5,2.8,3.0,3.0,2.7,2.0,1.7],
  [3.0,2.4,2.7,3.1,3.6,3.8,3.7,3.9,4.1,4.6,4.3,4.2,3.9,4.9,4.3,3.6,2.8,2.7,2.5,2.4,2.2,2.7,2.6,3.4,3.6,3.9,4.7,5.8,3.2,4.7,3.5,2.8,3.0,3.0,2.8,2.1,1.8],
  [3.0,2.4,2.7,3.1,3.6,3.9,3.7,4.0,4.1,4.6,4.3,4.2,3.9,5.0,4.3,3.6,2.8,2.8,2.6,2.5,2.3,2.8,2.7,3.4,3.6,3.9,4.8,5.8,3.3,4.7,3.6,2.9,3.1,3.1,2.9,2.3,2.0],
  [3.0,2.4,2.7,3.1,3.6,3.9,3.7,4.0,4.1,4.6,4.3,4.2,3.9,5.0,4.3,3.6,2.8,2.7,2.5,2.4,2.2,2.7,2.6,3.4,3.6,3.9,4.8,5.8,3.0,4.7,3.5,2.8,3.0,3.0,2.7,2.0,1.7],
  [2.9,2.3,2.5,2.9,3.3,3.5,3.4,3.6,3.7,4.0,3.8,3.7,3.65,4.8,4.1,3.4,2.5,2.4,2.2,2.1,1.9,2.5,2.5,3.2,3.4,3.8,4.7,5.7,3.6,4.6,3.3,2.5,2.6,2.6,2.3,1.6,1.3],
  [3.0,2.45,2.7,3.2,3.6,3.9,3.7,4.0,4.1,4.6,4.3,4.2,4.0,4.9,4.3,3.7,2.8,2.8,2.6,2.4,2.3,2.8,2.6,3.4,3.6,3.9,4.8,5.7,3.9,4.8,3.6,2.9,3.1,3.2,2.9,2.1,1.8]
];

// ---------- Italy 60M ----------
const IT60_DATA = [3.16,2.62,2.86,3.23,3.72,4.02,3.77,3.98,4.16,4.65,4.4,4.3,4.02,5.04,4.4,3.86,3.2,3.2,2.9,2.76,2.62,3.09,2.9,3.7,3.91,4.12,5.04,6.04,4.23,5.27,3.97,3.23,3.51,3.53,3.42,2.53,2.2];
const IT60_MODELS = [
  [2.9,2.4,2.6,3.0,3.4,3.6,3.4,3.6,3.8,4.2,4.0,3.9,3.7,4.6,4.1,3.6,3.0,2.9,2.6,2.4,2.3,2.7,2.7,3.3,3.6,3.9,4.7,5.7,4.0,4.9,3.7,3.1,3.1,3.1,2.9,2.3,2.0],
  [3.0,2.4,2.7,3.0,3.5,3.7,3.4,3.6,3.8,4.0,3.9,3.8,3.6,4.6,4.0,3.4,2.6,2.5,2.3,2.2,2.1,2.6,2.6,3.2,3.5,3.8,4.6,5.6,3.4,4.7,3.4,2.7,2.7,2.7,2.5,2.0,1.8],
  [3.0,2.5,2.7,3.1,3.5,3.8,3.5,3.7,3.9,4.3,4.1,4.0,3.8,4.7,4.1,3.6,2.9,2.8,2.5,2.4,2.3,2.7,2.7,3.3,3.6,3.9,4.7,5.7,3.8,4.9,3.6,2.9,3.0,3.0,2.8,2.2,1.9],
  [3.1,2.5,2.8,3.1,3.6,3.9,3.6,3.8,4.0,4.4,4.2,4.1,3.8,4.8,4.2,3.7,3.0,2.9,2.6,2.5,2.4,2.8,2.8,3.4,3.7,4.0,4.8,5.8,3.9,5.0,3.7,3.0,3.1,3.1,2.9,2.2,1.9],
  [3.0,2.4,2.7,3.0,3.5,3.7,3.5,3.7,3.9,4.3,4.0,3.9,3.7,4.7,4.1,3.5,2.8,2.7,2.4,2.3,2.2,2.7,2.7,3.3,3.6,3.8,4.7,5.7,3.6,4.8,3.5,2.8,2.9,2.9,2.7,2.1,1.8],
  [3.1,2.5,2.8,3.1,3.6,3.9,3.6,3.9,4.0,4.5,4.2,4.1,3.9,4.8,4.2,3.7,3.0,2.9,2.6,2.5,2.4,2.8,2.8,3.5,3.7,4.0,4.8,5.8,3.8,5.0,3.7,3.0,3.2,3.2,3.0,2.3,2.0],
  [3.1,2.5,2.8,3.1,3.6,3.9,3.6,3.9,4.0,4.5,4.3,4.2,3.9,4.9,4.3,3.7,3.0,3.0,2.7,2.6,2.4,2.9,2.8,3.5,3.7,4.0,4.9,5.9,3.8,5.1,3.8,3.1,3.2,3.2,3.0,2.3,2.0],
  [3.1,2.5,2.8,3.2,3.6,3.9,3.7,3.9,4.1,4.5,4.3,4.2,3.9,4.9,4.3,3.7,3.1,3.0,2.7,2.6,2.5,2.9,2.8,3.5,3.8,4.0,4.9,5.9,3.9,5.1,3.8,3.1,3.3,3.3,3.1,2.4,2.1],
  [3.1,2.6,2.8,3.2,3.7,4.0,3.7,3.9,4.1,4.6,4.3,4.2,4.0,4.9,4.3,3.8,3.1,3.0,2.8,2.7,2.5,3.0,2.9,3.6,3.8,4.1,4.9,5.9,3.9,5.2,3.8,3.1,3.3,3.3,3.1,2.4,2.1],
  [3.1,2.6,2.8,3.2,3.7,4.0,3.7,3.9,4.1,4.6,4.3,4.2,4.0,5.0,4.4,3.8,3.1,3.1,2.8,2.7,2.5,3.0,2.9,3.6,3.8,4.1,5.0,6.0,4.0,5.2,3.9,3.2,3.4,3.4,3.2,2.5,2.1],
  [3.2,2.6,2.8,3.2,3.7,4.0,3.7,3.9,4.1,4.6,4.4,4.3,4.0,5.0,4.4,3.8,3.2,3.1,2.8,2.7,2.6,3.0,2.9,3.7,3.9,4.1,5.0,6.0,4.1,5.2,3.9,3.2,3.4,3.4,3.3,2.5,2.2],
  [3.2,2.6,2.9,3.2,3.7,4.0,3.8,4.0,4.2,4.6,4.4,4.3,4.0,5.0,4.4,3.9,3.2,3.2,2.9,2.8,2.6,3.1,2.9,3.7,3.9,4.1,5.0,6.0,4.2,5.3,4.0,3.2,3.5,3.5,3.4,2.5,2.2],
  [3.1,2.5,2.8,3.1,3.6,3.9,3.6,3.8,4.0,4.4,4.2,4.1,3.9,4.9,4.3,3.7,3.0,2.9,2.6,2.5,2.4,2.9,2.8,3.5,3.7,4.0,4.9,5.9,3.9,5.1,3.7,3.0,3.1,3.1,2.9,2.2,1.9],
  [3.2,2.6,2.9,3.2,3.7,4.0,3.8,4.0,4.2,4.6,4.4,4.3,4.0,5.0,4.4,3.9,3.2,3.2,2.9,2.8,2.6,3.1,2.9,3.7,3.9,4.1,5.0,6.0,4.2,5.3,4.0,3.2,3.5,3.5,3.4,2.5,2.2]
];

// Grey ramp: models from lightest to darkest, DATA in black
const SERIES_GRAYS = ['#f2f2f2','#e4e4e4','#d7d7d7','#cacaca','#bdbdbd','#b0b0b0','#a3a3a3','#969696',
  '#888888','#7a7a7a','#686868','#555555','#3e3e3e','#111111','#000000'];
const SHADE_FILL = 'rgba(204,204,204,0.4)';
const FONT = 'Liberation Sans, Arial, Helvetica, sans-serif';

const PANELS = [
  { country: 'Germany', mat: '12M', data: DE12_DATA, models: DE12_MODELS, ticks: DE_TICKS, lo: -1, hi: 6 },
  { country: 'Germany', mat: '24M', data: DE24_DATA, models: DE24_MODELS, ticks: DE_TICKS, lo: -1, hi: 6 },
  { country: 'Germany', mat: '36M', data: DE36_DATA, models: DE36_MODELS, ticks: DE_TICKS, lo: -1, hi: 6 },
  { country: 'Germany', mat: '48M', data: DE48_DATA, models: DE48_MODELS, ticks: DE_TICKS, lo: -1, hi: 6 },
  { country: 'Germany', mat: '60M', data: DE60_DATA, models: DE60_MODELS, ticks: DE_TICKS, lo: -1, hi: 6 },
  { country: 'Italy', mat: '12M', data: IT12_DATA, models: IT12_MODELS, ticks: IT_TICKS, lo: -1, hi: 8 },
  { country: 'Italy', mat: '24M', data: IT24_DATA, models: IT24_MODELS, ticks: IT_TICKS, lo: 0, hi: 8 },
  { country: 'Italy', mat: '36M', data: IT36_DATA, models: IT36_MODELS, ticks: IT_TICKS, lo: 0, hi: 8 },
  { country: 'Italy', mat: '48M', data: IT48_DATA, models: IT48_MODELS, ticks: IT_TICKS, lo: 0, hi: 8 },
  { country: 'Italy', mat: '60M', data: IT60_DATA, models: IT60_MODELS, ticks: IT_TICKS, lo: 0, hi: 8 }
];

const NAMES = MODELS.concat(['DATA']);
const toPairs = arr => arr.map((v, i) => [i, v]);

const grid = [], xAxis = [], yAxis = [], series = [], legend = [], title = [];

PANELS.forEach((p, k) => {
  const col = k % 5, row = Math.floor(k / 5);
  const left = 83 + col * 303.5;
  const top = row === 0 ? 84 : 664;
  const W = 219, H = 426;
  const pad = 0.04 * (p.hi - p.lo);
  const ymin = p.lo - pad, ymax = p.hi + pad;

  grid.push({ left, top, width: W, height: H, show: true, borderColor: '#000', borderWidth: 1,
    backgroundColor: 'transparent', containLabel: false });

  xAxis.push({
    type: 'value', gridIndex: k, min: -1.44, max: 37.44, position: 'bottom',
    name: 'Dates (Quarterly)', nameLocation: 'middle', nameGap: 43,
    nameTextStyle: { fontFamily: FONT, fontSize: 11, color: '#333' },
    axisLine: { show: false, onZero: false }, splitLine: { show: false },
    axisTick: { show: true, inside: false, length: 8, lineStyle: { color: '#000' }, customValues: X_TICKS },
    axisLabel: { rotate: 90, margin: 11, fontFamily: FONT, fontSize: 10, color: '#333',
      customValues: X_TICKS, formatter: v => QUARTERS[Math.round(v)] }
  });

  yAxis.push({
    type: 'value', gridIndex: k, min: ymin, max: ymax, position: 'left',
    name: p.mat + ' Yield (in BP)', nameLocation: 'middle', nameGap: 38, nameRotate: 90,
    nameTextStyle: { fontFamily: FONT, fontSize: 11, color: '#333' },
    axisLine: { show: false, onZero: false }, splitLine: { show: false },
    axisTick: { show: true, inside: false, length: 8, lineStyle: { color: '#000' }, customValues: p.ticks },
    axisLabel: { rotate: 90, margin: 13, fontFamily: FONT, fontSize: 10, color: '#333',
      customValues: p.ticks, formatter: v => String(Math.round(v)) }
  });

  p.models.forEach((vals, m) => {
    series.push({
      type: 'line', name: MODELS[m], xAxisIndex: k, yAxisIndex: k,
      data: toPairs(vals), symbol: 'none', silent: true, z: 2,
      lineStyle: { color: SERIES_GRAYS[m], width: 1 }, itemStyle: { color: SERIES_GRAYS[m] }
    });
  });

  series.push({
    type: 'line', name: 'DATA', xAxisIndex: k, yAxisIndex: k,
    data: toPairs(p.data), symbol: 'rect', symbolSize: 8, silent: true, z: 3,
    lineStyle: { color: '#000', width: 1.5 }, itemStyle: { color: '#000' }
  });

  // Recession shading laid over the curves
  series.push({
    type: 'custom', name: 'recession', xAxisIndex: k, yAxisIndex: k, silent: true, z: 10,
    data: RECESSIONS,
    renderItem: (params, api) => {
      const a = api.coord([api.value(0), p.hi]);
      const b = api.coord([api.value(1), p.lo]);
      return { type: 'rect', shape: { x: a[0], y: a[1], width: b[0] - a[0], height: b[1] - a[1] },
        style: { fill: SHADE_FILL } };
    }
  });

  legend.push({
    orient: 'vertical', left: left + 10, top: row === 0 ? 320 : 674,
    itemWidth: 9, itemHeight: 8, itemGap: 0, icon: 'rect', selectedMode: false, z: 1, padding: 0,
    textStyle: { fontFamily: FONT, fontSize: 11, fontWeight: 'bold', color: '#222', lineHeight: 12.5,
      padding: [0, 0, 0, 5] },
    data: NAMES.map((n, i) => ({ name: n, icon: 'rect',
      itemStyle: { color: SERIES_GRAYS[i], borderColor: '#000', borderWidth: 1 } }))
  });

  title.push({
    text: 'Estimated Yields (' + p.mat + ')', subtext: p.country,
    left: left + W / 2, top: row === 0 ? 51 : 631, textAlign: 'center', itemGap: 2, padding: 0,
    textStyle: { fontFamily: FONT, fontSize: 12, fontWeight: 'bold', color: '#000' },
    subtextStyle: { fontFamily: FONT, fontSize: 12, fontWeight: 'bold', color: '#000' }
  });
});

const chart = echarts.init(document.getElementById('chart'), null, { renderer: 'canvas' });
chart.setOption({
  animation: false,
  backgroundColor: '#fff',
  grid, xAxis, yAxis, series, legend, title,
  graphic: [
    { type: 'line', shape: { x1: 9.5, y1: 3.5, x2: 1539, y2: 3.5 }, style: { stroke: '#000', lineWidth: 1 } },
    { type: 'line', shape: { x1: 9.5, y1: 3.5, x2: 9.5, y2: 1161 }, style: { stroke: '#000', lineWidth: 1 } },
    { type: 'line', shape: { x1: 9.5, y1: 580.5, x2: 1539, y2: 580.5 }, style: { stroke: '#000', lineWidth: 1 } }
  ]
});
</script>
</body>
</html>
